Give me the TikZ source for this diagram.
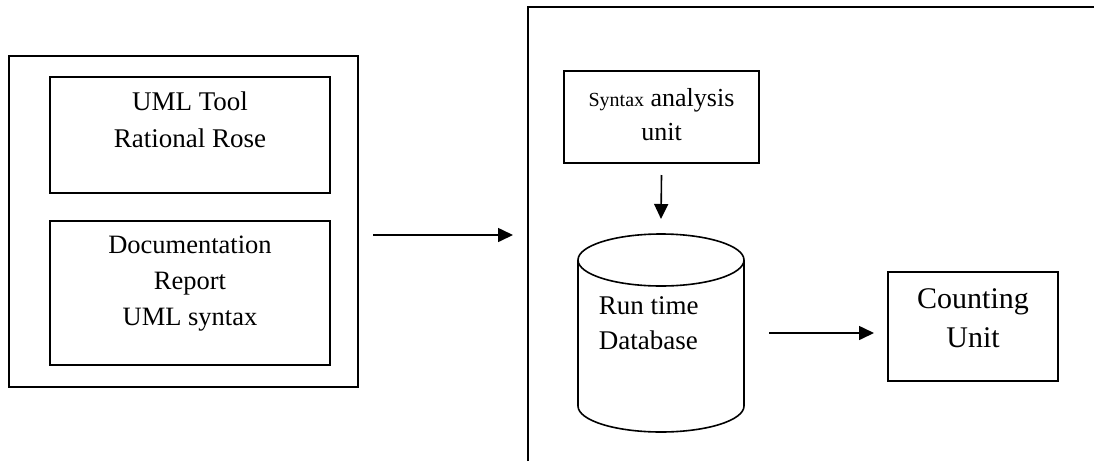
\documentclass[tikz,border=0pt]{standalone}
\usepackage{fontspec}
\setmainfont{Liberation Serif}
\usetikzlibrary{arrows.meta}
\begin{document}
\begin{tikzpicture}[x=1pt,y=-1pt,
  line width=1.6pt,
  box/.style={draw,inner sep=0pt,outer sep=0pt},
  ghost/.style={inner sep=0pt,outer sep=0pt},
  arr/.style={-{Triangle[length=15pt,width=14pt]}},
  txt/.style={align=center,inner sep=0pt}]
\useasboundingbox (0,0) rectangle (1094,461);

% left block: tool and documentation
\node[box,minimum width=349,minimum height=331] (outer) at (183.5,221.5) {};
\node[box,minimum width=280,minimum height=116] (tool) at (190,135) {};
\node[box,minimum width=280,minimum height=144] (doc) at (190,293) {};
\node[txt,font=\fontsize{27}{37}\selectfont] (tooltxt) at (190,120) {UML Tool\\Rational Rose};
\node[txt,font=\fontsize{26.5}{36}\selectfont] (doctxt) at (190,284) {Documentation\\Report\\UML syntax};

% right frame
\coordinate (fbl) at (528,461);
\coordinate (ftl) at (528,7);
\coordinate (ftr) at (1094,7);
\draw (fbl) -- (ftl) -- (ftr);

% syntax analysis unit
\node[box,minimum width=195,minimum height=92] (syntax) at (661.5,117) {};
\node[txt,font=\fontsize{26}{34}\selectfont] (syntxt) at (661.5,115)
  {{\fontsize{20}{34}\selectfont Syntax} analysis\\unit};

% run time database cylinder
\node[ghost,minimum width=166,minimum height=198] (db) at (661,333) {};
\draw (578,260) -- (578,406) arc[start angle=180,end angle=0,x radius=83,y radius=26] -- (744,260);
\draw (661,260) ellipse[x radius=83,y radius=26];
\node[align=left,inner sep=0pt,anchor=west,font=\fontsize{27}{35}\selectfont] (dbtxt) at (598,323) {Run time\\Database};

% counting unit
\node[box,minimum width=170,minimum height=109] (count) at (973,326.5) {};
\node[txt,font=\fontsize{30}{39}\selectfont] (counttxt) at (973,318) {Counting\\Unit};

% connectors
\coordinate (a1s) at (373,235);
\coordinate (a1e) at (513,235);
\draw[arr] (a1s) -- (a1e);
\draw[arr] ([yshift=-12pt]syntax.south) -- ([yshift=15pt]db.north);
\draw[arr] ([xshift=25pt]db.east) -- ([xshift=-14pt]db.east -| count.west);
\end{tikzpicture}
\end{document}
